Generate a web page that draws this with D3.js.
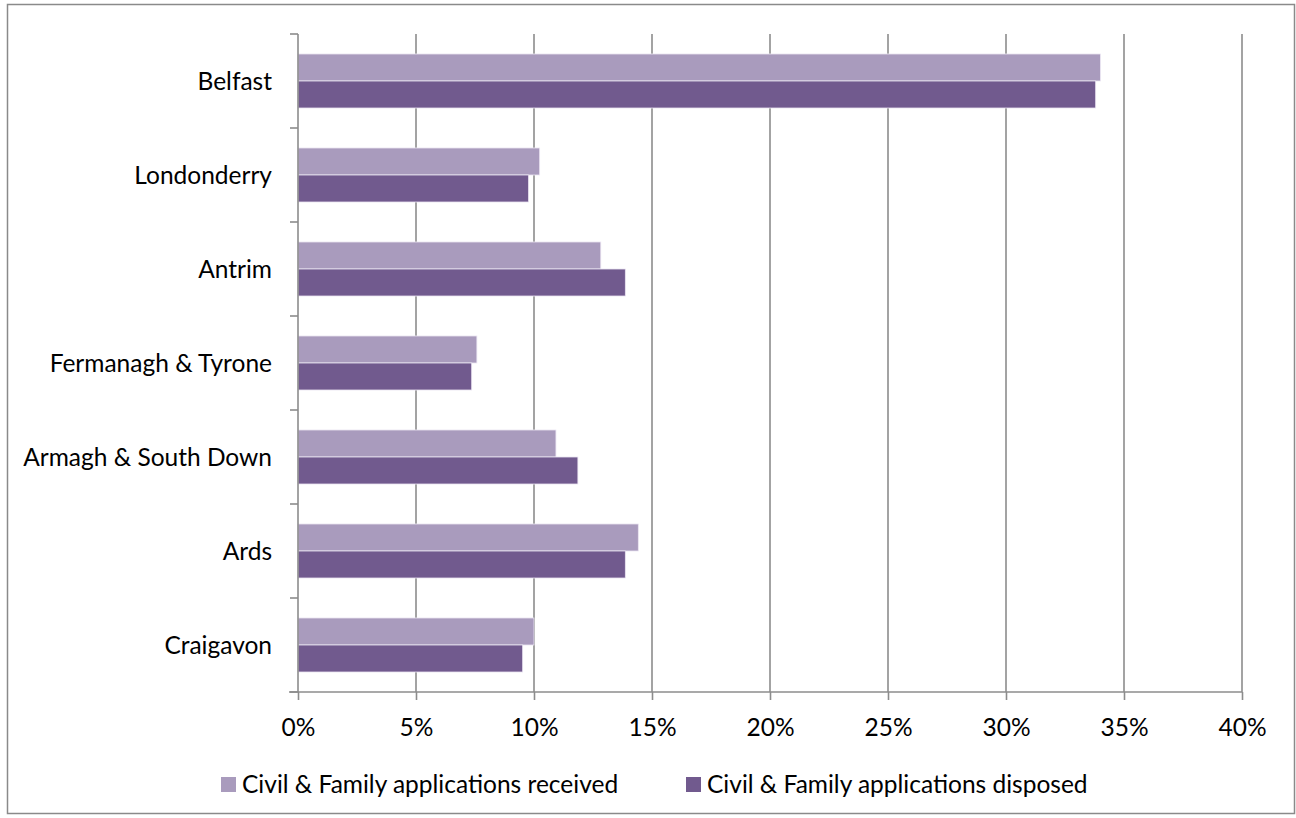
<!DOCTYPE html>
<html>
<head>
<meta charset="utf-8">
<script src="https://cdn.jsdelivr.net/npm/d3@7"></script>
<style>
  html, body { margin: 0; padding: 0; background: #fff; }
  svg { display: block; }
  text { font-family: Lato, "Open Sans", sans-serif; fill: #000; }
</style>
</head>
<body>
<svg id="chart" width="1296" height="818"></svg>
<script>
// Court divisions, top to bottom
const divisions = ["Belfast", "Londonderry", "Antrim", "Fermanagh & Tyrone",
                   "Armagh & South Down", "Ards", "Craigavon"];
// Share of applications (%) per division
const received = [34.0, 10.24, 12.83, 7.58, 10.93, 14.42, 10.0];
const disposed = [33.8, 9.77, 13.87, 7.36, 11.86, 13.87, 9.52];
const seriesNames = ["Civil & Family applications received", "Civil & Family applications disposed"];
const seriesColors = ["#A99BBD", "#715A8E"];
const xTicks = [0, 5, 10, 15, 20, 25, 30, 35, 40];

const svg = d3.select("#chart");
const W = 1296, H = 818;
const plot = { left: 298, right: 1242, top: 34, bottom: 692 };
const FS = 24.5;

// Outer chart border
svg.append("rect")
  .attr("x", 7.5).attr("y", 4.5)
  .attr("width", W - 9).attr("height", H - 9)
  .attr("fill", "#fff").attr("stroke", "#8a8a8a").attr("stroke-width", 1.5);

const x = d3.scaleLinear().domain([0, 40]).range([plot.left, plot.right]);
const y = d3.scaleBand().domain(divisions).range([plot.top, plot.bottom]).padding(0);
const inner = d3.scaleBand().domain([0, 1])
  .range([0, y.bandwidth()]).paddingOuter(0.74).paddingInner(0);

// Vertical gridlines
svg.append("g").selectAll("line")
  .data(xTicks.slice(1))
  .join("line")
  .attr("x1", d => x(d)).attr("x2", d => x(d))
  .attr("y1", plot.top).attr("y2", plot.bottom)
  .attr("stroke", "#8c8c8c").attr("stroke-width", 1.6);

// Bars
const series = [received, disposed];
series.forEach((vals, si) => {
  svg.append("g").selectAll("rect")
    .data(divisions.map((d, i) => ({ d, v: vals[i] })))
    .join("rect")
    .attr("x", x(0))
    .attr("y", r => y(r.d) + inner(si))
    .attr("width", r => x(r.v) - x(0))
    .attr("height", inner.bandwidth())
    .attr("fill", seriesColors[si])
    .attr("stroke", "#ece6f3").attr("stroke-width", 0.8);
});

// Bottom axis
const xAxis = d3.axisBottom(x).tickValues(xTicks).tickFormat(d => d + "%")
  .tickSize(8).tickPadding(19);
const gx = svg.append("g").attr("transform", `translate(0,${plot.bottom})`).call(xAxis);
gx.select(".domain").remove();
gx.append("line").attr("x1", plot.left - 9).attr("x2", plot.right)
  .attr("stroke", "#8c8c8c").attr("stroke-width", 1.6);
gx.selectAll(".tick line").attr("stroke", "#8c8c8c").attr("stroke-width", 1.6);
gx.selectAll(".tick text").attr("font-size", FS).style("fill", "#000");

// Left axis with category ticks at band boundaries
const ga = svg.append("g");
ga.append("line").attr("x1", plot.left).attr("x2", plot.left)
  .attr("y1", plot.top).attr("y2", plot.bottom)
  .attr("stroke", "#8c8c8c").attr("stroke-width", 1.6);
const bounds = divisions.map(d => y(d)).concat([plot.bottom]);
ga.selectAll("line.tk").data(bounds).join("line").attr("class", "tk")
  .attr("x1", plot.left - 8).attr("x2", plot.left)
  .attr("y1", d => d).attr("y2", d => d)
  .attr("stroke", "#8c8c8c").attr("stroke-width", 1.6);
ga.selectAll("text").data(divisions).join("text")
  .attr("x", 272)
  .attr("y", d => y(d) + y.bandwidth() / 2)
  .attr("dy", "0.35em")
  .attr("text-anchor", "end")
  .attr("font-size", FS)
  .text(d => d);

// Legend
const legendPos = [221, 686];
const lg = svg.append("g");
seriesNames.forEach((name, i) => {
  lg.append("rect").attr("x", legendPos[i]).attr("y", 777)
    .attr("width", 15).attr("height", 15).attr("fill", seriesColors[i]);
  lg.append("text").attr("x", legendPos[i] + 21).attr("y", 784.5)
    .attr("dy", "0.35em").attr("font-size", FS).text(name);
});
</script>
</body>
</html>
